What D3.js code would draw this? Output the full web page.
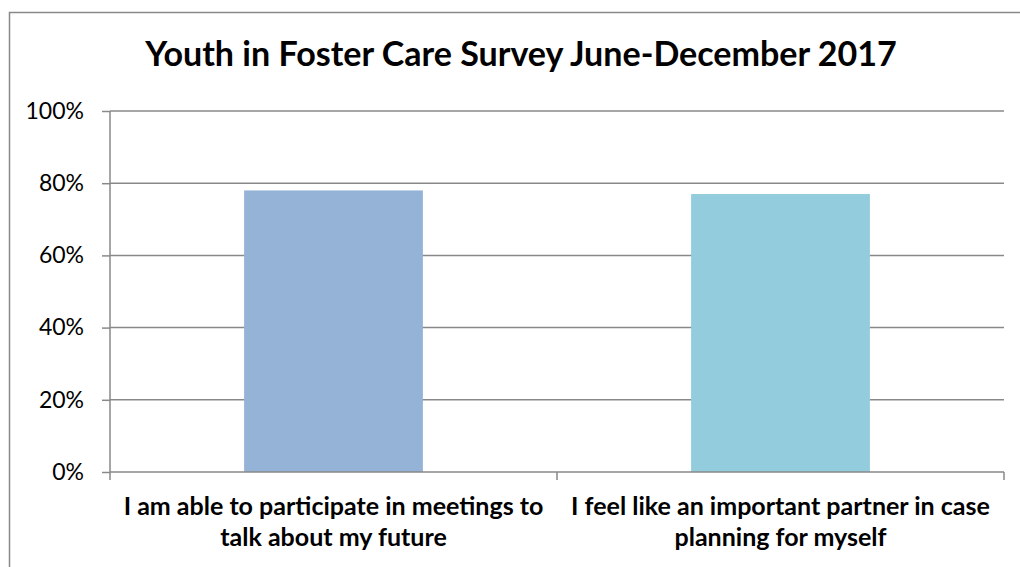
<!DOCTYPE html>
<html>
<head>
<meta charset="utf-8">
<script src="https://cdn.jsdelivr.net/npm/d3@7"></script>
<style>
  html, body { margin: 0; padding: 0; background: #fff; }
  svg { display: block; font-family: Lato, "Open Sans", sans-serif; }
</style>
</head>
<body>
<div id="canvas"></div>
<script>
// chart data
var title = "Youth in Foster Care Survey June-December 2017";
var categories = ["cat1", "cat2"];
var categoryLines = [
  ["I am able to participate in meetings to", "talk about my future"],
  ["I feel like an important partner in case", "planning for myself"]
];
var values = [0.78, 0.77];
var barColors = ["#95b3d7", "#93cddd"];
var yTicks = [0, 0.2, 0.4, 0.6, 0.8, 1.0];

var width = 1020, height = 567;
var margin = {top: 111, right: 16, bottom: 95, left: 110};
var gridColor = "#898989";

var svg = d3.select("#canvas")
    .append("svg")
    .attr("width", width)
    .attr("height", height);

// outer chart border (runs off the right and bottom edges)
svg.append("rect")
    .attr("x", 9.5).attr("y", 12.5)
    .attr("width", 1100).attr("height", 700)
    .attr("fill", "none")
    .attr("stroke", gridColor)
    .attr("stroke-width", 1.5);

var xBand = d3.scaleBand()
    .domain(categories)
    .range([margin.left, width - margin.right])
    .paddingInner(0.6)
    .paddingOuter(0.3);

var xCat = d3.scaleBand()
    .domain(categories)
    .range([margin.left, width - margin.right]);

var yScale = d3.scaleLinear()
    .domain([0, 1])
    .range([height - margin.bottom, margin.top]);

// gridlines
svg.append("g")
    .selectAll("line")
    .data(yTicks.filter(function(d){ return d > 0; }))
    .enter().append("line")
    .attr("x1", margin.left)
    .attr("x2", width - margin.right)
    .attr("y1", function(d){ return yScale(d); })
    .attr("y2", function(d){ return yScale(d); })
    .attr("stroke", gridColor)
    .attr("stroke-width", 1.5);

// bars
svg.append("g")
    .selectAll("rect")
    .data(values)
    .enter().append("rect")
    .attr("x", function(d, i){ return xBand(categories[i]); })
    .attr("width", xBand.bandwidth())
    .attr("y", function(d){ return yScale(d); })
    .attr("height", function(d){ return yScale(0) - yScale(d); })
    .attr("fill", function(d, i){ return barColors[i]; });

// y axis
var yAxis = d3.axisLeft(yScale)
    .tickValues(yTicks)
    .tickFormat(d3.format(".0%"))
    .tickSize(8)
    .tickPadding(18);

var yg = svg.append("g")
    .attr("transform", "translate(" + margin.left + ",0)")
    .call(yAxis);
yg.select(".domain").attr("stroke", gridColor).attr("stroke-width", 1.5)
    .attr("d", "M0," + yScale(1) + "V" + (yScale(0) + 8));
yg.selectAll(".tick line").attr("stroke", gridColor).attr("stroke-width", 1.5);
yg.selectAll(".tick text")
    .attr("fill", "#000")
    .style("font-size", "23px")
    .style("font-family", "Lato, 'Open Sans', sans-serif");

// x axis line and category boundary ticks
var y0 = yScale(0);
svg.append("line")
    .attr("x1", margin.left).attr("x2", width - margin.right)
    .attr("y1", y0).attr("y2", y0)
    .attr("stroke", gridColor).attr("stroke-width", 1.5);

var bounds = categories.map(function(c){ return xCat(c); }).concat([width - margin.right]);
svg.append("g")
    .selectAll("line")
    .data(bounds.slice(1))
    .enter().append("line")
    .attr("x1", function(d){ return d; })
    .attr("x2", function(d){ return d; })
    .attr("y1", y0).attr("y2", y0 + 8)
    .attr("stroke", gridColor).attr("stroke-width", 1.5);

// measure helper: scale font size so a text fits a target width
function fitSize(text, weight, target) {
  var t = svg.append("text")
      .style("font-size", "100px")
      .style("font-weight", weight)
      .text(text);
  var w = t.node().getComputedTextLength();
  t.remove();
  return 100 * target / w;
}

// category labels
var catSize = fitSize(categoryLines[0][0], "bold", 420);
var lineBase = [515, 546];
categoryLines.forEach(function(lines, i){
  var cx = xCat(categories[i]) + xCat.bandwidth() / 2;
  lines.forEach(function(line, j){
    svg.append("text")
        .attr("x", cx)
        .attr("y", lineBase[j])
        .attr("text-anchor", "middle")
        .style("font-size", catSize + "px")
        .style("font-weight", "bold")
        .attr("fill", "#000")
        .text(line);
  });
});

// title
var titleSize = fitSize(title, "bold", 752);
svg.append("text")
    .attr("x", 521)
    .attr("y", 66)
    .attr("text-anchor", "middle")
    .style("font-size", titleSize + "px")
    .style("font-weight", "bold")
    .attr("fill", "#000")
    .text(title);
</script>
</body>
</html>
